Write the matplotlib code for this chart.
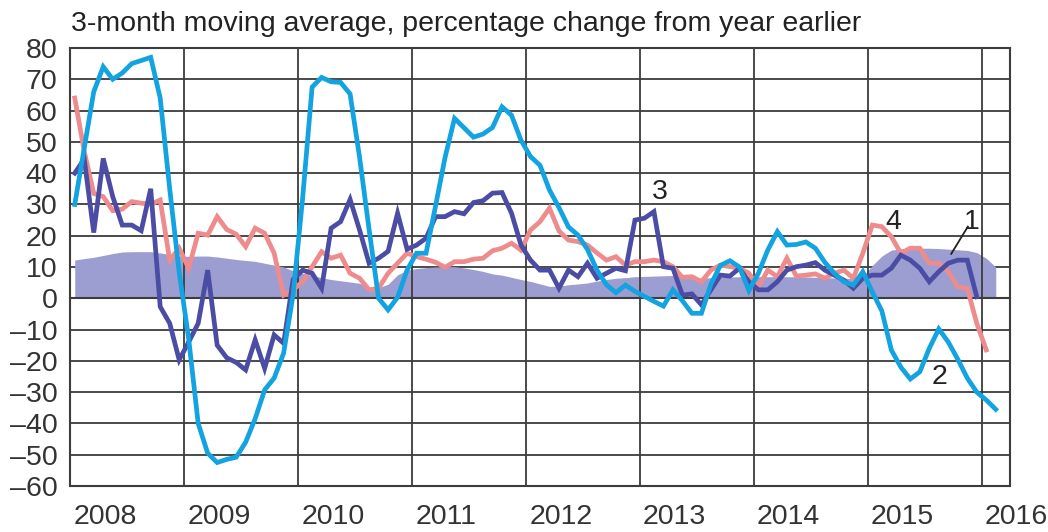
import numpy as np
import matplotlib
matplotlib.use("Agg")
import matplotlib.pyplot as plt
import matplotlib.transforms as mtransforms

plt.rcParams['font.family'] = ['Liberation Sans', 'DejaVu Sans']

title = "3-month moving average, percentage change from year earlier"
year_labels = ["2008", "2009", "2010", "2011", "2012", "2013", "2014", "2015", "2016"]
y_ticks = list(range(-60, 81, 10))

# Monthly values starting January 2008
series1_area = [
    12.2, 12.7, 13.1, 13.7, 14.3, 14.8, 14.9, 14.9, 14.9, 14.5, 14.0, 13.5,
    13.4, 13.5, 13.5, 13.2, 12.8, 12.4, 12.1, 11.8, 11.2, 10.6, 10.0, 8.8,
    8.0, 7.3, 6.6, 6.0, 5.6, 5.2, 4.8, 3.6, 3.4, 4.5, 7.5, 9.0,
    9.5, 9.8, 10.0, 10.1, 10.1, 9.7, 9.2, 8.6, 7.8, 7.4, 6.7, 6.0,
    5.4, 4.6, 3.8, 3.9, 4.3, 4.6, 4.9, 5.5, 6.0, 6.4, 6.6, 6.9,
    7.0, 7.1, 7.2, 7.3, 7.0, 6.7, 6.4, 6.6, 6.7, 6.8, 6.9, 6.9,
    6.9, 6.9, 6.9, 6.9, 6.9, 6.8, 6.7, 6.6, 6.5, 6.4, 6.3, 7.0,
    10.5, 13.5, 15.4, 15.8, 16.0, 16.0, 16.0, 15.9, 15.7, 15.5, 15.3, 14.6,
    12.8, 10.0,
]

series2_light = [
    30, 48, 66, 74, 70, 72, 75, 76, 77, 64, 35, 8.3,
    -13, -40, -49.5, -52.5, -51.5, -50.8, -46, -38.5, -29.3, -25.5, -17.5, 1.2,
    32, 67.5, 70.6, 69.2, 69, 65.3, 45, 22, 0, -3.7, 0.3, 9,
    14.4, 14.4, 29.5, 45, 57.5, 54.5, 51.5, 52.5, 54.6, 61.2, 58.5, 50.5,
    45.3, 42.5, 34.6, 29, 22.8, 20.2, 15.6, 9, 4.3, 1.8, 4.2, 2.2,
    0.6, -1, -2.5, 2.7, -0.8, -4.8, -4.8, 4.5, 10.5, 12, 10, 2.5,
    8, 15.5, 21.3, 17, 17.2, 18, 16, 11.5, 8, 5.3, 4.2, 8.5,
    2, -4, -16.5, -22, -25.8, -23.5, -16, -9.8, -14, -19.5, -25.5, -30,
    -32.5, -35.5,
]

series3_dark = [
    40, 44.5, 21, 44.7, 32.5, 23.4, 23.4, 21.6, 35, -2.7, -8, -19.7,
    -14, -8, 9, -15, -19, -20.5, -22.9, -13.3, -22.4, -11.7, -14.4, 6,
    9, 8, 3.2, 22.4, 24.5, 31.6, 21.8, 11.2, 12.8, 15, 27.2, 15.7,
    17, 19.2, 26.1, 26.1, 27.7, 27, 30.6, 31.2, 33.6, 33.8, 27.2, 17,
    12.2, 9, 9, 3.2, 9, 6.9, 11.2, 6.4, 8, 9.6, 8.8, 25,
    25.6, 27.7, 10.1, 9.6, 1, 1.4, -2.1, 2.7, 7.4, 7.1, 9.6, 5.3,
    2.7, 2.7, 5.3, 9, 10.1, 10.6, 11.4, 9, 7.4, 5.8, 3.2, 6.4,
    7.4, 7.4, 9.6, 13.8, 12.2, 9.6, 5.3, 8.5, 11.2, 12.2, 12.2, 0.5,
]

series4_pink = [
    64, 47, 33.5, 32.5, 28, 28.5, 30.9, 30.4, 30.1, 31.4, 12.2, 16,
    9.6, 20.8, 20.2, 26.1, 22, 20.5, 16.5, 22.4, 20.8, 14.4, 1, 2.7,
    5.3, 10.1, 14.9, 12.8, 13.8, 8, 6.4, 2.7, 3.2, 8, 11.2, 14.4,
    13.3, 12.5, 11.5, 9.9, 11.7, 11.7, 12.5, 12.8, 15.2, 16, 17.6, 15.4,
    21.8, 24.5, 28.8, 21.5, 18.6, 18.1, 17, 14.5, 12.2, 13.3, 10.6, 11.7,
    11.7, 12.2, 11.7, 10.1, 6.7, 6.9, 5.3, 9, 10.6, 10.1, 9.6, 8,
    3.7, 9, 6.9, 12.8, 7.1, 7.4, 7.8, 6.4, 8, 9, 6.4, 14.4,
    23.4, 22.9, 19.7, 14.4, 16, 16, 11.2, 11.2, 8.5, 3.7, 3.2, -8,
    -16.5,
]

def months(n):
    return 2008 + (np.arange(n) + 0.5) / 12.0

W, H = 1048, 532
fig = plt.figure(figsize=(W / 100, H / 100), dpi=100)
ax = fig.add_axes([70 / W, (H - 486) / H, (1010 - 70) / W, (486 - 48) / H])

grid_c = '#3c3c3c'
text_c = '#333333'
c_area = '#9c9ed2'
c_light = '#12a3e0'
c_dark = '#4b4ca3'
c_pink = '#ee8b8d'
fs = 20.5
lw = 3.4

ax.set_xlim(2008, 2016.25)
ax.set_ylim(-60, 80)

for v in y_ticks:
    ax.axhline(v, color=grid_c, lw=1.3, zorder=0.5)

xa = months(len(series1_area))
ax.fill_between(xa, 0, series1_area, color=c_area, lw=0, zorder=1)

for yr in range(2009, 2017):
    ax.axvline(yr, color=grid_c, lw=1.3, zorder=1.5)
ax.axhline(0, color=grid_c, lw=1.5, zorder=1.6)

ax.plot(months(len(series4_pink)), series4_pink, color=c_pink, lw=lw,
        solid_joinstyle='miter', zorder=3)
ax.plot(months(len(series3_dark)), series3_dark, color=c_dark, lw=lw,
        solid_joinstyle='miter', zorder=4)
ax.plot(months(len(series2_light)), series2_light, color=c_light, lw=lw,
        solid_joinstyle='miter', zorder=5)

for s in ax.spines.values():
    s.set_color(grid_c)
    s.set_linewidth(1.5)
    s.set_zorder(6)

ax.set_yticks(y_ticks)
ax.set_yticklabels([str(v) if v >= 0 else '\u2013' + str(-v) for v in y_ticks],
                   fontsize=fs, color=text_c)
ax.tick_params(axis='y', length=0, pad=9)
ax.set_xticks([])

trans = mtransforms.blended_transform_factory(ax.transData, fig.transFigure)
for i, lab in enumerate(year_labels):
    ax.text(2008 + i + 0.03, (H - 517) / H, lab, transform=trans, ha='left', va='center',
            fontsize=fs, color=text_c, clip_on=False)

fig.text(71 / W, (H - 24) / H, title, ha='left', va='center', fontsize=fs, color='#222222')

lab_kw = dict(fontsize=fs, color='#222222', ha='center', va='center', zorder=7)
ax.text(2013.175, 34.1, '3', **lab_kw)
ax.text(2015.222, 24.5, '4', **lab_kw)
ax.text(2015.91, 24.5, '1', **lab_kw)
ax.text(2015.632, -25, '2', **lab_kw)
ax.plot([2015.88, 2015.734], [22.9, 14.2], color='#222222', lw=1.3, zorder=7)

fig.savefig('out.png', dpi=100)
